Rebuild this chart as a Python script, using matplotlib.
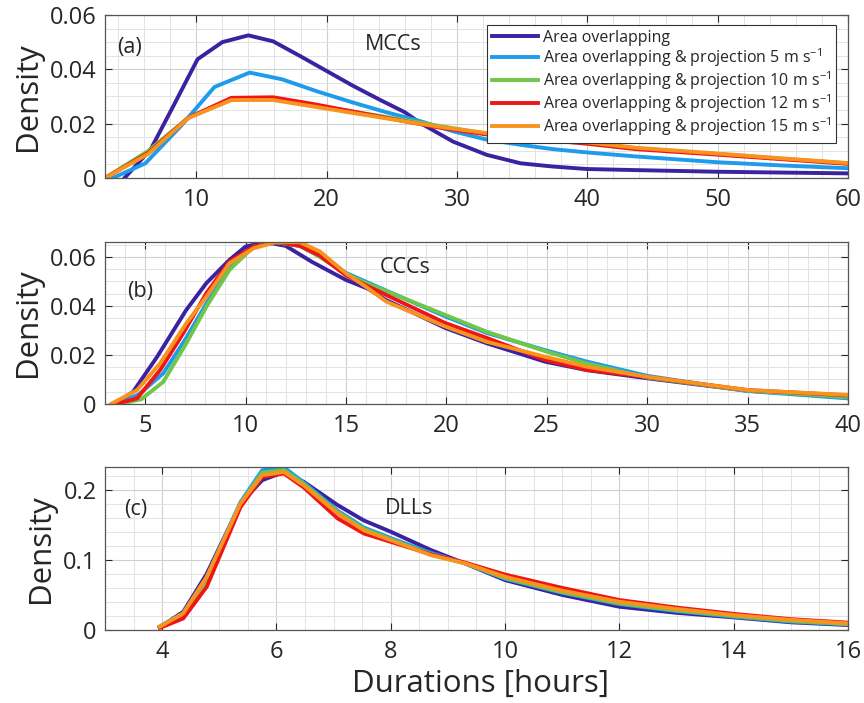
import matplotlib
matplotlib.use("Agg")
import matplotlib.pyplot as plt
from matplotlib.ticker import MultipleLocator, FuncFormatter

plt.rcParams['font.family'] = ['Open Sans', 'DejaVu Sans']
plt.rcParams['mathtext.fontset'] = 'custom'
plt.rcParams['mathtext.rm'] = 'Open Sans'
plt.rcParams['mathtext.it'] = 'Open Sans'

labels = ["Area overlapping",
          "Area overlapping & projection 5 m s$^{-1}$",
          "Area overlapping & projection 10 m s$^{-1}$",
          "Area overlapping & projection 12 m s$^{-1}$",
          "Area overlapping & projection 15 m s$^{-1}$"]
colors = ['#3A22A0', '#1E9BEB', '#6EC64A', '#F01414', '#F7931E']

# ---------------- Panel (a) MCCs ----------------
a_x_dark = [4.5, 6.5, 8.3, 10.1, 12.0, 14.0, 15.9, 18, 20, 22, 24, 26, 27.2, 29.7, 32.3, 34.9, 37.4, 40, 43.8, 50, 55, 60]
a_y_dark = [0, 0.0105, 0.027, 0.0437, 0.050, 0.0525, 0.0503, 0.0448, 0.0394, 0.034, 0.029, 0.0242, 0.0202, 0.0134, 0.0085, 0.0054, 0.0042, 0.0033, 0.0029, 0.0023, 0.002, 0.0017]
a_x_5 = [3.6, 6.1, 8.8, 11.4, 14.1, 16.6, 19.2, 22, 24.5, 27.2, 29.7, 32.3, 34.9, 37.4, 40, 43.8, 50, 55, 60]
a_y_5 = [0, 0.0054, 0.019, 0.0335, 0.0388, 0.0363, 0.032, 0.0278, 0.0243, 0.0209, 0.0172, 0.0141, 0.0122, 0.0106, 0.0094, 0.0079, 0.0058, 0.0046, 0.0036]
a_x_10 = [3.0, 6.3, 9.4, 12.7, 15.9, 19.0, 22.2, 25.4, 28.6, 32.3, 34.9, 37.4, 40, 43.8, 50, 55, 60]
a_y_10 = [0, 0.0099, 0.0222, 0.0288, 0.0292, 0.0268, 0.0243, 0.0218, 0.0192, 0.0163, 0.0151, 0.014, 0.0129, 0.0109, 0.0088, 0.0071, 0.0054]
a_x_12 = [3.0, 6.3, 9.4, 12.7, 15.9, 19.0, 22.2, 25.4, 28.6, 32.3, 34.9, 37.4, 40, 43.8, 50, 55, 60]
a_y_12 = [0, 0.0092, 0.0222, 0.0295, 0.0297, 0.0272, 0.0243, 0.0214, 0.0186, 0.016, 0.0148, 0.0137, 0.0126, 0.0106, 0.0086, 0.0069, 0.0052]
a_x_15 = [3.0, 6.3, 9.4, 12.7, 15.9, 19.0, 22.2, 25.4, 28.6, 32.3, 34.9, 37.4, 40, 43.8, 50, 55, 60]
a_y_15 = [0, 0.0088, 0.0221, 0.0287, 0.0287, 0.0263, 0.0238, 0.0213, 0.0189, 0.0165, 0.0153, 0.0141, 0.0131, 0.0111, 0.009, 0.0072, 0.0055]

# ---------------- Panel (b) CCCs ----------------
b_x_dark = [3.5, 4.4, 5.6, 7.05, 8.05, 9.2, 10.0, 11.0, 12.0, 13.3, 15, 16.1, 17, 19.95, 22, 24.9, 27, 30, 35, 40]
b_y_dark = [0, 0.005, 0.0193, 0.0384, 0.0493, 0.0588, 0.0642, 0.066, 0.0645, 0.058, 0.0506, 0.047, 0.0424, 0.031, 0.0248, 0.0173, 0.0138, 0.0105, 0.0054, 0.003]
b_x_5 = [3.6, 4.7, 5.9, 7.05, 8.05, 9.2, 10.4, 11.5, 12.7, 13.7, 15, 16.1, 19.95, 22, 24.9, 27, 30, 35, 40]
b_y_5 = [0, 0.004, 0.0125, 0.027, 0.041, 0.0555, 0.064, 0.066, 0.0645, 0.0605, 0.0535, 0.0495, 0.0357, 0.029, 0.022, 0.0173, 0.0115, 0.0053, 0.0023]
b_x_10 = [3.7, 4.8, 5.9, 7.05, 8.05, 9.2, 10.4, 11.5, 12.7, 13.7, 15, 16.1, 19.95, 22, 24.9, 27, 30, 35, 40]
b_y_10 = [0, 0.0019, 0.009, 0.0248, 0.0397, 0.0547, 0.0642, 0.066, 0.0645, 0.060, 0.053, 0.049, 0.0363, 0.0295, 0.0216, 0.0165, 0.0108, 0.0055, 0.0028]
b_x_12 = [3.5, 4.6, 5.75, 6.9, 8.05, 9.2, 10.4, 11.6, 12.7, 13.7, 15, 16.1, 19.95, 22, 24.9, 27, 30, 35, 40]
b_y_12 = [0, 0.0023, 0.0139, 0.0289, 0.0452, 0.0581, 0.0642, 0.066, 0.0645, 0.0605, 0.0525, 0.048, 0.033, 0.027, 0.018, 0.0139, 0.011, 0.0057, 0.0035]
b_x_15 = [3.3, 4.6, 5.75, 7.05, 8.05, 9.2, 10.4, 11.5, 12.7, 13.7, 15, 16.1, 17, 19.95, 22, 24.9, 27, 30, 35, 40]
b_y_15 = [0, 0.0057, 0.0166, 0.0329, 0.0438, 0.0574, 0.0635, 0.066, 0.066, 0.0622, 0.0533, 0.0472, 0.0418, 0.0316, 0.0254, 0.0193, 0.0152, 0.0111, 0.0057, 0.0037]

# ---------------- Panel (c) DLLs ----------------
c_x = [3.96, 4.37, 4.78, 5.37, 5.75, 6.13, 6.48, 7.07, 7.53, 8.0, 8.7, 9.3, 10.0, 11.0, 12.0, 13.0, 14.0, 15.0, 16.0]
c_y_dark = [0.004, 0.026, 0.08, 0.18, 0.2134, 0.225, 0.211, 0.178, 0.156, 0.14, 0.114, 0.0948, 0.0711, 0.05, 0.0332, 0.0245, 0.018, 0.011, 0.0071]
c_y_5 = [0.005, 0.024, 0.075, 0.182, 0.2276, 0.2318, 0.21, 0.17, 0.146, 0.131, 0.11, 0.095, 0.073, 0.053, 0.037, 0.027, 0.019, 0.012, 0.008]
c_y_10 = [0.005, 0.023, 0.072, 0.18, 0.224, 0.228, 0.208, 0.168, 0.144, 0.129, 0.108, 0.095, 0.074, 0.054, 0.038, 0.028, 0.02, 0.013, 0.0085]
c_y_12 = [0.003, 0.0166, 0.0616, 0.175, 0.218, 0.223, 0.203, 0.159, 0.1375, 0.1256, 0.108, 0.096, 0.079, 0.06, 0.0427, 0.032, 0.023, 0.0155, 0.0105]
c_y_15 = [0.0047, 0.0237, 0.0758, 0.18, 0.2205, 0.2252, 0.206, 0.166, 0.142, 0.128, 0.1067, 0.095, 0.0758, 0.056, 0.0403, 0.030, 0.0213, 0.0145, 0.0095]

fig = plt.figure(figsize=(8.64, 7.03), dpi=100)
L, W = 0.1215, 0.8600
ax_a = fig.add_axes([L, 0.7468, W, 0.2319])
ax_b = fig.add_axes([L, 0.4253, W, 0.2309])
ax_c = fig.add_axes([L, 0.1038, W, 0.2315])

fmt = FuncFormatter(lambda v, p: ('%g' % round(v, 4)))
tc = '#262626'

def style(ax, xlim, ylim, xmaj, xmin, ymaj, ymin):
    ax.set_xlim(*xlim)
    ax.set_ylim(*ylim)
    ax.xaxis.set_major_locator(MultipleLocator(xmaj))
    ax.xaxis.set_minor_locator(MultipleLocator(xmin))
    ax.yaxis.set_major_locator(MultipleLocator(ymaj))
    ax.yaxis.set_minor_locator(MultipleLocator(ymin))
    ax.xaxis.set_major_formatter(fmt)
    ax.yaxis.set_major_formatter(fmt)
    ax.grid(True, which='major', color='#d0d0d0', lw=0.8, zorder=0)
    ax.grid(True, which='minor', color='#e3e3e3', lw=0.7, zorder=0)
    ax.set_axisbelow(True)
    ax.tick_params(which='major', direction='in', length=5, width=0.8, color=tc,
                   top=True, right=True, labelsize=17, labelcolor=tc)
    ax.tick_params(axis='x', which='major', pad=7)
    ax.tick_params(axis='y', which='major', pad=6)
    ax.tick_params(which='minor', length=0)
    for s in ax.spines.values():
        s.set_color('#555555')
        s.set_linewidth(0.9)
    ax.set_ylabel('Density', fontsize=22.5, color=tc, labelpad=5)

lw = 2.8
series_a = [(a_x_dark, a_y_dark), (a_x_5, a_y_5), (a_x_10, a_y_10), (a_x_12, a_y_12), (a_x_15, a_y_15)]
for (x, y), c, lab in zip(series_a, colors, labels):
    ax_a.plot(x, y, color=c, lw=lw, label=lab, solid_joinstyle='round')
style(ax_a, (3, 60), (0, 0.06), 10, 2, 0.02, 0.005)
ax_a.text(3.9, 0.048, '(a)', fontsize=15.5, color=tc, va='center')
ax_a.text(22.9, 0.0493, 'MCCs', fontsize=15.5, color=tc, va='center')
leg = ax_a.legend(loc='upper right', bbox_to_anchor=(0.984, 0.939), borderaxespad=0,
                  fontsize=11.5, handlelength=2.9, handletextpad=0.3, labelspacing=0.02,
                  borderpad=0.3, fancybox=False, framealpha=1, edgecolor='#333333')
leg.get_frame().set_linewidth(0.8)
for t in leg.get_texts():
    t.set_color(tc)

series_b = [(b_x_dark, b_y_dark), (b_x_5, b_y_5), (b_x_10, b_y_10), (b_x_12, b_y_12), (b_x_15, b_y_15)]
for (x, y), c in zip(series_b, colors):
    ax_b.plot(x, y, color=c, lw=lw, solid_joinstyle='round')
style(ax_b, (3, 40), (0, 0.0662), 5, 1, 0.02, 0.005)
ax_b.text(4.09, 0.0457, '(b)', fontsize=15.5, color=tc, va='center')
ax_b.text(16.7, 0.0555, 'CCCs', fontsize=15.5, color=tc, va='center')

series_c = [c_y_dark, c_y_5, c_y_10, c_y_12, c_y_15]
for y, c in zip(series_c, colors):
    ax_c.plot(c_x, y, color=c, lw=lw, solid_joinstyle='round')
style(ax_c, (3, 16), (0, 0.2318), 2, 0.5, 0.1, 0.02)
ax_c.text(3.33, 0.171, '(c)', fontsize=15.5, color=tc, va='center')
ax_c.text(7.9, 0.1735, 'DLLs', fontsize=15.5, color=tc, va='center')
ax_c.set_xlabel('Durations [hours]', fontsize=22.5, color=tc)
ax_c.xaxis.set_label_coords(0.505, -0.24)

fig.savefig('out.png', dpi=100)
